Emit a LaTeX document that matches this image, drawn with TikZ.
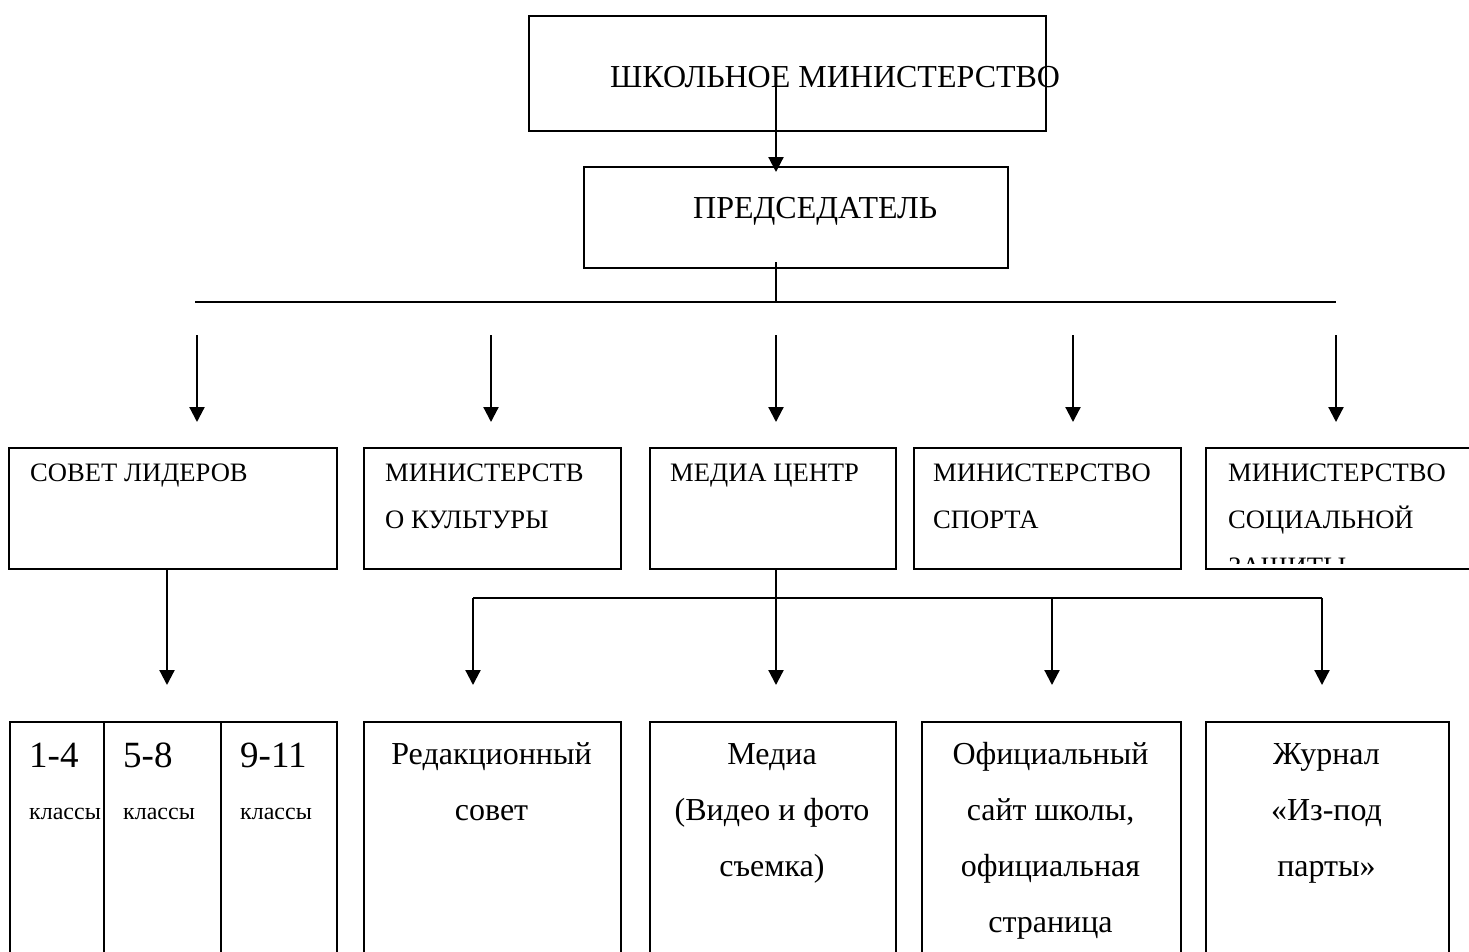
\documentclass[tikz,border=0pt]{standalone}
\usepackage{fontspec}
\setmainfont{Liberation Serif}
\usetikzlibrary{arrows.meta}
\begin{document}
\begin{tikzpicture}[x=1pt,y=-1pt,
  boxst/.style={draw, line width=1.6pt, inner sep=0pt, anchor=north west},
  conn/.style={line width=2.2pt},
  arr/.style={line width=2.2pt, -{Triangle[width=15pt,length=15pt]}},
  bigtxt/.style={font=\fontsize{32}{38}\selectfont, inner sep=0pt},
  numtxt/.style={font=\fontsize{37}{44}\selectfont, inner sep=0pt, anchor=base west},
  midtxt/.style={font=\fontsize{26.6}{32}\selectfont, inner sep=0pt, anchor=base west},
  lowtxt/.style={font=\fontsize{32}{38}\selectfont, inner sep=0pt, anchor=base},
  smalltxt/.style={font=\fontsize{24}{28}\selectfont, inner sep=0pt, anchor=base west},
]
\useasboundingbox (0,0) rectangle (1469,951);
\clip (0,0) rectangle (1469,951);
\fill[white] (0,0) rectangle (1469,951);

% top level
\node[boxst, minimum width=517pt, minimum height=115pt] (top) at (528,15) {};
\node[bigtxt, anchor=base west] (toptxt) at (610,87) {ШКОЛЬНОЕ МИНИСТЕРСТВО};
\node[boxst, minimum width=424pt, minimum height=101pt] (chair) at (583,166) {};
\node[bigtxt, anchor=base west] (chairtxt) at (693,218) {ПРЕДСЕДАТЕЛЬ};

% row 2 boxes
\node[boxst, minimum width=328pt, minimum height=121pt] (b1) at (8,447) {};
\node[boxst, minimum width=257pt, minimum height=121pt] (b2) at (363,447) {};
\node[boxst, minimum width=246pt, minimum height=121pt] (b3) at (649,447) {};
\node[boxst, minimum width=267pt, minimum height=121pt] (b4) at (913,447) {};
\node[boxst, minimum width=280pt, minimum height=121pt] (b5) at (1205,447) {};

\node[midtxt] (t1) at (30,481) {СОВЕТ ЛИДЕРОВ};
\node[midtxt] (t2a) at (385,481) {МИНИСТЕРСТВ};
\node[midtxt] (t2b) at (385,528) {О КУЛЬТУРЫ};
\node[midtxt] (t3) at (670,481) {МЕДИА ЦЕНТР};
\node[midtxt] (t4a) at (933,481) {МИНИСТЕРСТВО};
\node[midtxt] (t4b) at (933,528) {СПОРТА};
\node[midtxt] (t5a) at (1228,481) {МИНИСТЕРСТВО};
\node[midtxt] (t5b) at (1228,528) {СОЦИАЛЬНОЙ};
\begin{scope}
  \clip (1206,448) rectangle (1469,563);
  \node[midtxt] (t5c) at (1228,575) {ЗАЩИТЫ};
\end{scope}

% bottom boxes
\node[boxst, minimum width=94pt, minimum height=250pt] (c1) at (9,721) {};
\node[boxst, minimum width=117pt, minimum height=250pt] (c2) at (103,721) {};
\node[boxst, minimum width=116pt, minimum height=250pt] (c3) at (220,721) {};
\node[boxst, minimum width=257pt, minimum height=250pt] (d1) at (363,721) {};
\node[boxst, minimum width=246pt, minimum height=250pt] (d2) at (649,721) {};
\node[boxst, minimum width=259pt, minimum height=250pt] (d3) at (921,721) {};
\node[boxst, minimum width=243pt, minimum height=250pt] (d4) at (1205,721) {};

\node[numtxt] (c1a) at (29,767) {1-4};
\node[smalltxt] (c1b) at (29,819) {классы};
\node[numtxt] (c2a) at (123,767) {5-8};
\node[smalltxt] (c2b) at (123,819) {классы};
\node[numtxt] (c3a) at (240,767) {9-11};
\node[smalltxt] (c3b) at (240,819) {классы};

\node[lowtxt] (d1a) at (491.5,764) {Редакционный};
\node[lowtxt] (d1b) at (491.5,820) {совет};
\node[lowtxt] (d2a) at (772,764) {Медиа};
\node[lowtxt] (d2b) at (772,820) {(Видео и фото};
\node[lowtxt] (d2c) at (772,876) {съемка)};
\node[lowtxt] (d3a) at (1050.5,764) {Официальный};
\node[lowtxt] (d3b) at (1050.5,820) {сайт школы,};
\node[lowtxt] (d3c) at (1050.5,876) {официальная};
\node[lowtxt] (d3d) at (1050.5,932) {страница};
\node[lowtxt] (d4a) at (1326.5,764) {Журнал};
\node[lowtxt] (d4b) at (1326.5,820) {«Из-под};
\node[lowtxt] (d4c) at (1326.5,876) {парты»};

% connectors
\coordinate (s0) at (776,86);
\coordinate (s0e) at (776,172);
\draw[arr] (s0) -- (s0e);

\coordinate (s1) at (776,262);
\coordinate (busL) at (195,302);
\coordinate (busR) at (1336,302);
\draw[conn] (s1) -- (s1 |- busL);
\draw[conn] (busL) -- (busR);

\foreach \x/\n in {197/a1,491/a2,776/a3,1073/a4,1336/a5}{
  \coordinate (\n s) at (\x,335);
  \coordinate (\n e) at (\x,422);
  \draw[arr] (\n s) -- (\n e);
}

\coordinate (k1) at (167,568);
\coordinate (k1e) at (167,685);
\draw[arr] (k1) -- (k1e);

\coordinate (m0) at (776,568);
\coordinate (mL) at (473,598);
\coordinate (mR) at (1322,598);
\draw[conn] (m0) -- (m0 |- mL);
\draw[conn] (mL) -- (mR);
\foreach \x/\n in {473/p1,776/p2,1052/p3,1322/p4}{
  \coordinate (\n s) at (\x,598);
  \coordinate (\n e) at (\x,685);
  \draw[arr] (\n s) -- (\n e);
}
\end{tikzpicture}
\end{document}
